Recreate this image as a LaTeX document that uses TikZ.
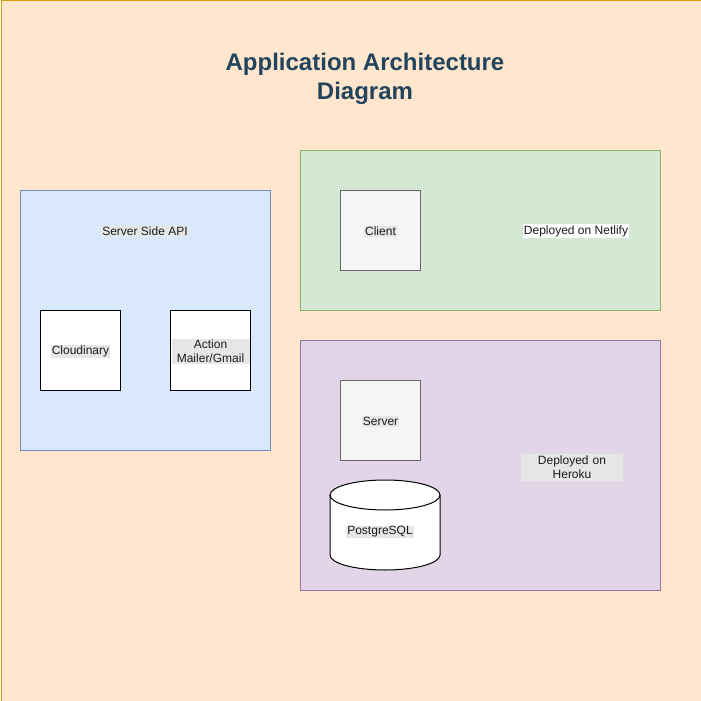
\documentclass[tikz,border=0pt]{standalone}
\usepackage{fontspec}
\setmainfont{Liberation Sans}
\definecolor{bgfill}{HTML}{FFE6CC}
\definecolor{bgline}{HTML}{D79B00}
\definecolor{bluefill}{HTML}{DAE8FC}
\definecolor{blueline}{HTML}{6C8EBF}
\definecolor{greenfill}{HTML}{D5E8D4}
\definecolor{greenline}{HTML}{82B366}
\definecolor{purpfill}{HTML}{E1D5E7}
\definecolor{purpline}{HTML}{9673A6}
\definecolor{greyfill}{HTML}{F5F5F5}
\definecolor{greyline}{HTML}{666666}
\definecolor{labelbg}{HTML}{E6E6E6}
\definecolor{titlecol}{HTML}{23445D}
\definecolor{txt}{HTML}{1A1A1A}
\tikzset{
  region/.style={draw, line width=0.8pt, anchor=north west, inner sep=0pt},
  compbox/.style={draw=black, fill=white, line width=1pt, minimum width=80pt, minimum height=80pt, anchor=north west, inner sep=0pt},
  greybox/.style={draw=greyline, fill=greyfill, line width=1pt, minimum width=80pt, minimum height=80pt, anchor=north west, inner sep=0pt},
  lbl/.style={font=\fontsize{12}{14}\selectfont, text=txt, fill=labelbg, inner sep=1pt, align=center, yshift=-1pt},
}
\begin{document}
\begin{tikzpicture}[x=1pt,y=-1pt]
\useasboundingbox (0,0) rectangle (701,701);
\node[region, draw=bgline, fill=bgfill, minimum width=700pt, minimum height=700pt] (page) at (0.5,0.5) {};
\node[font=\bfseries\fontsize{24}{29}\selectfont, text=titlecol, align=center] (title) at (365,79) {Application Architecture\\Diagram};

% Server side API
\node[region, draw=blueline, fill=bluefill, minimum width=250pt, minimum height=260pt] (api) at (20,190) {};
\node[lbl] (apilbl) at (145,230) {Server Side API};
\node[compbox] (cloud) at (40,310) {};
\node[lbl] at (cloud.center) {Cloudinary};
\node[compbox] (mail) at (170,310) {};
\node[lbl, text width=76pt] at (mail.center) {Action\\Mailer/Gmail};

% Netlify
\node[region, draw=greenline, fill=greenfill, minimum width=360pt, minimum height=160pt] (netlify) at (300,150) {};
\node[greybox] (client) at (340,190) {};
\node[lbl] at (client.center) {Client};
\node[lbl, fill=white] (netlbl) at (576,230) {Deployed on Netlify};

% Heroku
\node[region, draw=purpline, fill=purpfill, minimum width=360pt, minimum height=250pt] (heroku) at (300,340) {};
\node[greybox] (server) at (340,380) {};
\node[lbl] at (server.center) {Server};
\node[lbl, text width=100pt, minimum height=27pt] (herlbl) at (572,466) {Deployed on\\Heroku};

% PostgreSQL cylinder
\coordinate (dbtop) at (385,495);
\fill[white] (330,495) -- (330,555) arc[start angle=180, end angle=0, x radius=55, y radius=15]
  -- (440,495) arc[start angle=0, end angle=-180, x radius=55, y radius=15] -- cycle;
\draw[line width=1pt] (dbtop) ellipse[x radius=55, y radius=15];
\draw[line width=1pt] (330,495) -- (330,555) arc[start angle=180, end angle=0, x radius=55, y radius=15] -- (440,495);
\node[lbl] (db) at (380,531) {PostgreSQL};
\end{tikzpicture}
\end{document}
